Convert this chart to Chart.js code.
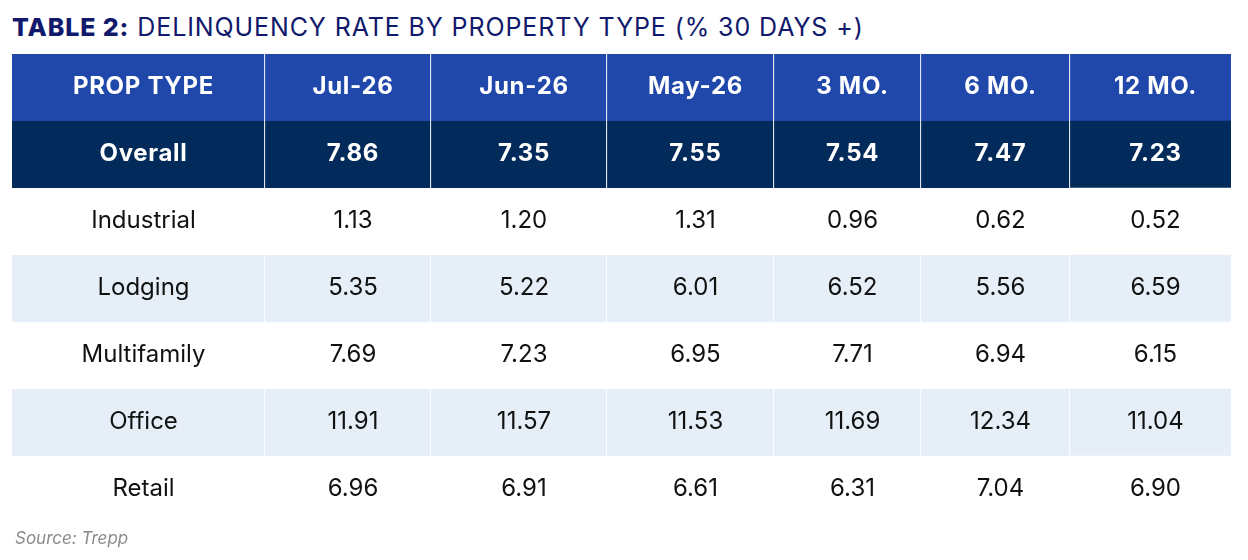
<!DOCTYPE html>
<html>
<head>
<meta charset="utf-8">
<script src="https://cdn.jsdelivr.net/npm/chart.js@4"></script>
<style>
    html, body { margin: 0; padding: 0; background: #fff; }
    #wrap { position: relative; width: 1248px; height: 560px; overflow: hidden; }
    #chartBox { position: absolute; left: 0; top: 0; width: 1248px; height: 560px; }
    #title {
        position: absolute; left: 12px; top: 12px; white-space: nowrap;
        font-family: Inter, sans-serif; font-size: 25px; letter-spacing: 0.9px; color: #10196b;
    }
    #title b { font-weight: 800; }
    #source {
        position: absolute; left: 15px; top: 528px;
        font-family: Inter, sans-serif; font-size: 17px; font-style: italic; color: #8a8a8a;
    }
</style>
</head>
<body>
<div id="wrap">
    <div id="title"><b>TABLE 2:</b> DELINQUENCY RATE BY PROPERTY TYPE (% 30 DAYS +)</div>
    <div id="chartBox"><canvas id="tableChart"></canvas></div>
    <div id="source">Source: Trepp</div>
</div>
<script>
// table content
const columns = ['PROP TYPE', 'Jul-26', 'Jun-26', 'May-26', '3 MO.', '6 MO.', '12 MO.'];
const propTypes = ['Overall', 'Industrial', 'Lodging', 'Multifamily', 'Office', 'Retail'];
const jul26 = [7.86, 1.13, 5.35, 7.69, 11.91, 6.96];
const jun26 = [7.35, 1.20, 5.22, 7.23, 11.57, 6.91];
const may26 = [7.55, 1.31, 6.01, 6.95, 11.53, 6.61];
const threeMo = [7.54, 0.96, 6.52, 7.71, 11.69, 6.31];
const sixMo = [7.47, 0.62, 5.56, 6.94, 12.34, 7.04];
const twelveMo = [7.23, 0.52, 6.59, 6.15, 11.04, 6.90];

// layout: column widths in px, used as stacked bar lengths
const colWidths = [253, 166, 176, 167, 147, 149, 161];

const valueCols = [null, jul26, jun26, may26, threeMo, sixMo, twelveMo];
const rowLabels = ['header'].concat(propTypes);
const totalWidth = colWidths.reduce((a, b) => a + b, 0);
const colStarts = colWidths.map((w, i) => colWidths.slice(0, i).reduce((a, b) => a + b, 0));

function rowColor(row) {
    if (row === 0) return '#1f48aa';
    if (row === 1) return '#022b5b';
    return row % 2 === 1 ? '#e6eef7' : '#ffffff';
}

const cellText = {
    id: 'cellText',
    afterDatasetsDraw(chart) {
        const { ctx, scales: { x, y } } = chart;
        ctx.save();
        ctx.textAlign = 'center';
        ctx.textBaseline = 'middle';
        rowLabels.forEach((_, r) => {
            const bold = r < 2;
            ctx.font = (bold ? '700 ' : '400 ') + '24px Inter, sans-serif';
            ctx.letterSpacing = bold ? '0.7px' : '0px';
            ctx.fillStyle = bold ? '#ffffff' : '#111111';
            columns.forEach((col, c) => {
                let txt;
                if (r === 0) txt = col;
                else if (c === 0) txt = propTypes[r - 1];
                else txt = valueCols[c][r - 1].toFixed(2);
                const px = x.getPixelForValue(colStarts[c] + colWidths[c] / 2) + 5;
                const py = y.getPixelForValue(r) - 1;
                ctx.fillText(txt, px, py);
            });
        });
        ctx.restore();
    }
};

new Chart(document.getElementById('tableChart'), {
    type: 'bar',
    data: {
        labels: rowLabels,
        datasets: colWidths.map((w, c) => ({
            label: columns[c],
            data: rowLabels.map(() => w),
            backgroundColor: ctx => rowColor(ctx.dataIndex),
            borderColor: '#ffffff',
            borderWidth: { top: 0, bottom: 0, left: 0, right: c < colWidths.length - 1 ? 1.2 : 0 },
            borderSkipped: false,
            barPercentage: 1,
            categoryPercentage: 1
        }))
    },
    options: {
        indexAxis: 'y',
        responsive: true,
        maintainAspectRatio: false,
        animation: false,
        layout: {
            padding: { left: 12, right: 1248 - 12 - totalWidth, top: 54, bottom: 37 }
        },
        scales: {
            x: { type: 'linear', stacked: true, min: 0, max: totalWidth, display: false },
            y: { stacked: true, display: false }
        },
        plugins: {
            legend: { display: false },
            tooltip: { enabled: false }
        }
    },
    plugins: [cellText]
});
</script>
</body>
</html>
